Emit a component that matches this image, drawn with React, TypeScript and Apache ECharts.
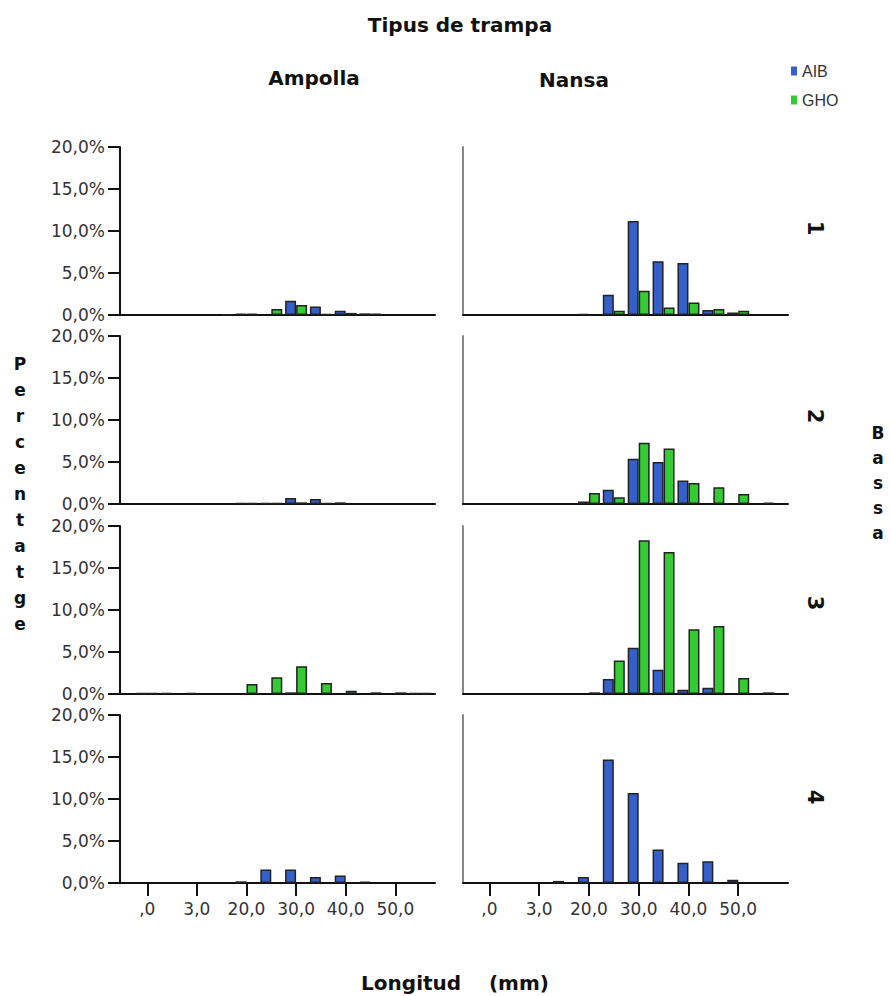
import React, { useEffect, useRef } from 'react';
import * as echarts from 'echarts';

// ---- data (percentages per 5 mm length bin) ----
const BINS = [0, 5, 10, 15, 20, 25, 30, 35, 40, 45, 50, 55];
const TRAP_TYPES = ['Ampolla', 'Nansa'];
const BASSES = ['1', '2', '3', '4'];
const SERIES_NAMES = ['AIB', 'GHO'];
const X_TICK_VALUES = [0, 10, 20, 30, 40, 50];
const X_TICK_LABELS = [',0', '3,0', '20,0', '30,0', '40,0', '50,0'];
const Y_MAX = 20;
const Y_INTERVAL = 5;

const AIB_AMPOLLA_1 = [0, 0, 0, 0, 0.15, 0, 1.7, 1.0, 0.5, 0.2, 0, 0];
const GHO_AMPOLLA_1 = [0, 0, 0, 0.05, 0.15, 0.7, 1.2, 0.1, 0.25, 0.15, 0, 0];
const AIB_NANSA_1 = [0, 0, 0, 0, 0.1, 2.4, 11.2, 6.4, 6.2, 0.6, 0.3, 0];
const GHO_NANSA_1 = [0, 0, 0, 0, 0, 0.5, 2.9, 0.9, 1.5, 0.7, 0.5, 0];

const AIB_AMPOLLA_2 = [0, 0, 0, 0, 0.1, 0.1, 0.7, 0.6, 0.2, 0, 0, 0];
const GHO_AMPOLLA_2 = [0, 0, 0, 0, 0.1, 0.1, 0.2, 0.1, 0, 0, 0, 0];
const AIB_NANSA_2 = [0, 0, 0, 0, 0.3, 1.7, 5.4, 5.0, 2.8, 0, 0, 0];
const GHO_NANSA_2 = [0, 0, 0, 0, 1.3, 0.8, 7.3, 6.6, 2.5, 2.0, 1.2, 0.15];

const AIB_AMPOLLA_3 = [0.1, 0.1, 0.1, 0, 0, 0, 0.2, 0, 0, 0, 0, 0.1];
const GHO_AMPOLLA_3 = [0.1, 0, 0, 0, 1.2, 2.0, 3.3, 1.3, 0.4, 0.2, 0.2, 0.1];
const AIB_NANSA_3 = [0, 0, 0, 0, 0, 1.8, 5.5, 2.9, 0.5, 0.75, 0, 0];
const GHO_NANSA_3 = [0, 0, 0, 0, 0.2, 4.0, 18.3, 16.9, 7.7, 8.1, 1.9, 0.2];

const AIB_AMPOLLA_4 = [0, 0, 0, 0, 0.2, 1.6, 1.6, 0.7, 0.9, 0.15, 0, 0];
const GHO_AMPOLLA_4 = [0, 0, 0, 0, 0, 0, 0, 0, 0, 0, 0, 0];
const AIB_NANSA_4 = [0, 0, 0, 0.25, 0.7, 14.7, 10.7, 4.0, 2.4, 2.6, 0.4, 0];
const GHO_NANSA_4 = [0, 0, 0, 0, 0, 0, 0, 0, 0, 0, 0, 0];

// panels[row][col] = [AIB, GHO]
const PANELS = [
  [[AIB_AMPOLLA_1, GHO_AMPOLLA_1], [AIB_NANSA_1, GHO_NANSA_1]],
  [[AIB_AMPOLLA_2, GHO_AMPOLLA_2], [AIB_NANSA_2, GHO_NANSA_2]],
  [[AIB_AMPOLLA_3, GHO_AMPOLLA_3], [AIB_NANSA_3, GHO_NANSA_3]],
  [[AIB_AMPOLLA_4, GHO_AMPOLLA_4], [AIB_NANSA_4, GHO_NANSA_4]],
];

// ---- layout / style ----
const ROW_TOPS = [147, 336, 526, 715];
const ROW_H = 168;
const COL_LEFT = [120, 463];
const COL_W = [315, 325];
const X_MIN = [-5.5, -5.3];
const X_MAX = [58, 60];
const COLORS = ['#3560cc', '#33cc33'];
const ROW_LABEL_Y = [228, 416, 603, 797];

export default function App() {
  const ref = useRef<HTMLDivElement>(null);

  useEffect(() => {
    if (!ref.current) return;
    const chart = echarts.init(ref.current, null, { renderer: 'svg' });

    const grids: any[] = [];
    const xAxes: any[] = [];
    const yAxes: any[] = [];
    const series: any[] = [];
    const labelFont = { fontFamily: 'DejaVu Sans', fontSize: 17, color: '#333' };

    for (let r = 0; r < BASSES.length; r++) {
      for (let c = 0; c < TRAP_TYPES.length; c++) {
        const idx = grids.length;
        grids.push({
          left: COL_LEFT[c],
          top: ROW_TOPS[r],
          width: COL_W[c],
          height: ROW_H,
          containLabel: false,
          outerBoundsMode: 'none',
        });
        const isBottom = r === BASSES.length - 1;
        xAxes.push({
          type: 'value',
          gridIndex: idx,
          min: X_MIN[c],
          max: X_MAX[c],
          axisLine: { show: true, onZero: false, lineStyle: { color: '#111', width: 2 } },
          axisTick: {
            show: isBottom,
            customValues: X_TICK_VALUES,
            length: 13,
            lineStyle: { color: '#111', width: 2 },
          },
          axisLabel: {
            show: isBottom,
            customValues: X_TICK_VALUES,
            margin: 17,
            ...labelFont,
            formatter: (v: number) => {
              const i = X_TICK_VALUES.indexOf(Math.round(v));
              return i >= 0 ? X_TICK_LABELS[i] : '';
            },
          },
          splitLine: { show: false },
        });
        const isLeft = c === 0;
        yAxes.push({
          type: 'value',
          gridIndex: idx,
          min: 0,
          max: Y_MAX,
          interval: Y_INTERVAL,
          axisLine: { show: true, onZero: false, lineStyle: { color: isLeft ? '#111' : '#888', width: 2 } },
          axisTick: { show: isLeft, length: 12, lineStyle: { color: '#111', width: 2 } },
          axisLabel: {
            show: isLeft,
            margin: 15,
            ...labelFont,
            formatter: (v: number) => v.toFixed(1).replace('.', ',') + '%',
          },
          splitLine: { show: false },
        });
        for (let s = 0; s < SERIES_NAMES.length; s++) {
          const vals = PANELS[r][c][s];
          const data = BINS.map((b, i) => [b, vals[i]]).filter((d) => d[1] > 0);
          series.push({
            type: 'bar',
            name: SERIES_NAMES[s],
            xAxisIndex: idx,
            yAxisIndex: idx,
            data,
            barWidth: 11,
            barGap: '0%',
            silent: true,
            itemStyle: { color: COLORS[s], borderColor: '#222', borderWidth: 1.5 },
          });
        }
      }
    }

    const boldFont = { fontFamily: 'DejaVu Sans', fontWeight: 'bold', fill: '#111' };
    const graphic: any[] = [
      { type: 'text', x: 460, y: 25, style: { text: 'Tipus de trampa', fontSize: 20, align: 'center', verticalAlign: 'middle', ...boldFont } },
      { type: 'text', x: 314, y: 78, style: { text: TRAP_TYPES[0], fontSize: 20, align: 'center', verticalAlign: 'middle', ...boldFont } },
      { type: 'text', x: 574, y: 80, style: { text: TRAP_TYPES[1], fontSize: 20, align: 'center', verticalAlign: 'middle', ...boldFont } },
      { type: 'text', x: 455, y: 983, style: { text: 'Longitud    (mm)', fontSize: 20, align: 'center', verticalAlign: 'middle', ...boldFont } },
    ];
    'Percentatge'.split('').forEach((ch, i) => {
      graphic.push({ type: 'text', x: 20, y: 364 + i * 26, style: { text: ch, fontSize: 17, align: 'center', verticalAlign: 'middle', ...boldFont } });
    });
    'Bassa'.split('').forEach((ch, i) => {
      graphic.push({ type: 'text', x: 878, y: 433 + i * 25, style: { text: ch, fontSize: 17, align: 'center', verticalAlign: 'middle', ...boldFont } });
    });
    BASSES.forEach((b, i) => {
      graphic.push({ type: 'text', x: 815, y: ROW_LABEL_Y[i], rotation: -Math.PI / 2, style: { text: b, fontSize: 21, align: 'center', verticalAlign: 'middle', ...boldFont } });
    });

    chart.setOption({
      animation: false,
      backgroundColor: '#ffffff',
      legend: {
        orient: 'vertical',
        left: 791,
        top: 63,
        padding: 0,
        itemWidth: 6,
        itemHeight: 9,
        itemGap: 13,
        icon: 'rect',
        data: SERIES_NAMES,
        selectedMode: false,
        itemStyle: { borderWidth: 0 },
        textStyle: { fontFamily: 'Liberation Sans', fontSize: 16, color: '#333' },
      },
      grid: grids,
      xAxis: xAxes,
      yAxis: yAxes,
      series,
      graphic,
    });

    return () => chart.dispose();
  }, []);

  return (
    <div
      ref={ref}
      style={{ position: 'fixed', left: 0, top: 0, width: 890, height: 996, background: '#fff' }}
    />
  );
}
